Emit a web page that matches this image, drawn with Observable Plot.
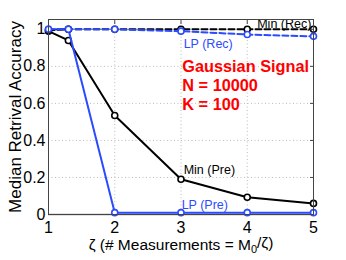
<!DOCTYPE html>
<html><head><meta charset="utf-8">
<script src="https://cdn.jsdelivr.net/npm/d3@7"></script>
<script src="https://cdn.jsdelivr.net/npm/@observablehq/plot@0.6"></script>
<style>body{margin:0;background:#fff}</style>
</head><body><div id="c"></div>
<script>
const zeta = [1, 1.3, 2, 3, 4, 5];
const minPre = [0.99, 0.94, 0.535, 0.19, 0.093, 0.06];
const lpPre = [1, 1, 0.01, 0.01, 0.01, 0.01];
const minRec = [0.995, 1, 1, 1, 1.0, 1.0];
const lpRec = [1, 1, 1, 0.99, 0.972, 0.962];
const xTicks = [1, 2, 3, 4, 5];
const yTicks = [0, 0.2, 0.4, 0.6, 0.8, 1];
const seriesNames = ["Min (Pre)", "LP (Pre)", "Min (Rec)", "LP (Rec)"];
const labelText = ["Min (Rec)", "LP (Rec)", "Min (Pre)", "LP (Pre)"];
const labelX = [4.15, 3.04, 3.04, 3.01];
const labelY = [1.03, 0.92, 0.238, 0.05];
const infoText = ["Gaussian Signal", "N = 10000", "K = 100"];
const infoY = [0.795, 0.695, 0.595];

const BLUE = "#2b4bff";
const series = [
  {name: seriesNames[0], v: minPre, color: "black", dash: null},
  {name: seriesNames[1], v: lpPre, color: BLUE, dash: null},
  {name: seriesNames[2], v: minRec, color: "black", dash: "6,3"},
  {name: seriesNames[3], v: lpRec, color: BLUE, dash: "6,3"}
];
const marks = [
  Plot.ruleX([2,3,4], {stroke: "#bbb", strokeDasharray: "1,2.5"}),
  Plot.ruleY([0.2,0.4,0.6,0.8], {stroke: "#bbb", strokeDasharray: "1,2.5"}),
  Plot.ruleY([0], {stroke: "#888", strokeWidth: 1.5}),
];
for (const s of series) {
  const d = zeta.map((z, i) => ({x: z, y: s.v[i]}));
  marks.push(Plot.line(d, {x: "x", y: "y", stroke: s.color, strokeWidth: 2, strokeDasharray: s.dash}));
  marks.push(Plot.dot(d, {x: "x", y: "y", r: 3, stroke: s.color, strokeWidth: 1.6, fill: "white"}));
}
marks.push(Plot.text(labelText.map((t,i)=>({t, x: labelX[i], y: labelY[i], c: i%2===0 ? "black" : BLUE})),
  {x: "x", y: "y", text: "t", fill: "c", textAnchor: "start", fontSize: 12.5}));
marks.push(Plot.text(infoText.map((t,i)=>({t, y: infoY[i]})),
  {x: () => 3.02, y: "y", text: "t", fill: "#ff0000", textAnchor: "start", fontSize: 16.3, fontWeight: "bold"}));
marks.push(Plot.frame({stroke: "#444"}));
marks.push(Plot.axisY(yTicks, {anchor: "left", tickSize: 0, tickPadding: 3, tickFormat: d => String(d),
  label: "Median Retrival Accuracy", labelAnchor: "center", labelArrow: "none", labelOffset: 40}));
marks.push(Plot.axisX(xTicks, {anchor: "bottom", tickSize: 0, tickPadding: 7,
  label: "ζ (# Measurements = M0/ζ)", labelAnchor: "center", labelArrow: "none", labelOffset: 35}));
marks.push(Plot.axisY(yTicks, {anchor: "right", tickSize: -4, text: null, label: null, stroke: "#444"}));
marks.push(Plot.axisX(xTicks, {anchor: "top", tickSize: -4, text: null, label: null, stroke: "#444"}));

const chart = Plot.plot({
  width: 346, height: 260,
  marginLeft: 48, marginRight: 33, marginTop: 19, marginBottom: 46,
  x: {domain: [1, 5]},
  y: {domain: [0, 1.053]},
  style: {fontFamily: "Liberation Sans, Arial, sans-serif", fontSize: "15px", color: "black", background: "white"},
  marks
});
document.getElementById("c").appendChild(chart);
const svg = d3.select(chart.tagName === "svg" ? chart : chart.querySelector("svg"));
svg.selectAll('[aria-label="x-axis tick label"] text, [aria-label="y-axis tick label"] text').style("font-size", "16px");
svg.selectAll('[aria-label="x-axis label"] text').style("font-size", "15.5px");
svg.selectAll('[aria-label="y-axis label"] text').style("font-size", "17px");
svg.selectAll('[aria-label="x-axis label"] text').each(function() {
  const t = d3.select(this);
  t.text(null);
  t.append("tspan").text("ζ (# Measurements = M");
  t.append("tspan").style("font-size", "11px").attr("dy", "0.3em").text("0");
  t.append("tspan").attr("dy", "-0.3em").text("/ζ)");
});
</script>
</body></html>
